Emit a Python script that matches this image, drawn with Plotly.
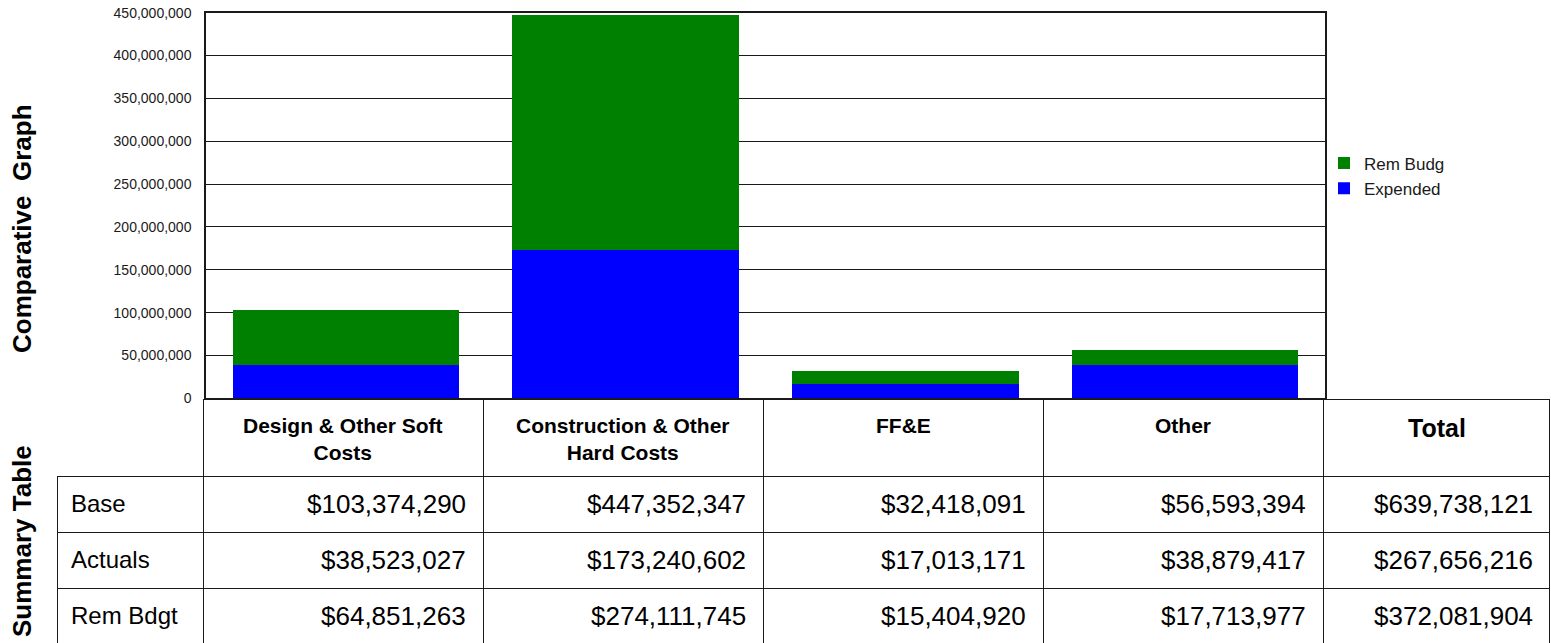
import plotly.graph_objects as go

# ---------------- data ----------------
categories = ["Design & Other Soft Costs", "Construction & Other Hard Costs", "FF&E", "Other"]
header_labels = ["Design & Other Soft<br>Costs", "Construction & Other<br>Hard Costs", "FF&E", "Other", "Total"]
row_labels = ["Base", "Actuals", "Rem Bdgt"]
base = [103374290, 447352347, 32418091, 56593394]
actuals = [38523027, 173240602, 17013171, 38879417]
rem_bdgt = [64851263, 274111745, 15404920, 17713977]
totals = [639738121, 267656216, 372081904]  # Base, Actuals, Rem Bdgt
series_names = ["Expended", "Rem Budg"]
y_ticks = [0, 50e6, 100e6, 150e6, 200e6, 250e6, 300e6, 350e6, 400e6, 450e6]

# ---------------- layout geometry (pixels) ----------------
W, H = 1551, 643
FONT = "Arial, Liberation Sans, sans-serif"
INK = "#1a1a1a"


def fx(px):
    return px / W


def fy(py):
    return 1 - py / H


plot_left, plot_right = 206, 1325
plot_top, plot_bottom = 12.7, 398.3

fig = go.Figure()
fig.add_trace(go.Bar(x=categories, y=actuals, name=series_names[0],
                     marker=dict(color="#0000FF", line=dict(width=0))))
fig.add_trace(go.Bar(x=categories, y=rem_bdgt, name=series_names[1],
                     marker=dict(color="#008000", line=dict(width=0))))

fig.update_layout(
    width=W, height=H,
    margin=dict(l=0, r=0, t=0, b=0, pad=0),
    paper_bgcolor="white", plot_bgcolor="white",
    barmode="stack", bargap=0.19,
    font=dict(family=FONT, color=INK),
    showlegend=True,
    legend=dict(x=fx(1324), xanchor="left", y=fy(176), yanchor="middle",
                traceorder="reversed", font=dict(size=17, color=INK),
                itemwidth=30, bgcolor="rgba(0,0,0,0)", tracegroupgap=0),
    xaxis=dict(domain=[fx(plot_left), fx(plot_right)], showticklabels=False,
               ticks="", showgrid=False, showline=True, linecolor=INK, linewidth=1.5,
               mirror=True, automargin=False, fixedrange=True),
    yaxis=dict(domain=[fy(plot_bottom), fy(plot_top)], range=[0, 450e6],
               tickvals=y_ticks, tickformat=",d", ticks="", ticklabelstandoff=10,
               tickfont=dict(size=14, color=INK), showgrid=True, gridcolor=INK,
               gridwidth=1, showline=True, linecolor=INK, linewidth=1.5,
               mirror=True, zeroline=False, automargin=False, fixedrange=True),
)

# ---------------- summary table (drawn with shapes + annotations) ----------------
col_edges = [203, 483, 763, 1043, 1323, 1550]
label_left = 57
header_top, header_bottom = 399.5, 476.5
row_h = 56
table_bottom = 650

shapes = []
# horizontal lines
shapes.append(dict(type="line", xref="paper", yref="paper",
                   x0=fx(col_edges[0]), x1=fx(col_edges[-1]), y0=fy(header_top), y1=fy(header_top),
                   line=dict(color=INK, width=1)))
for i in range(len(row_labels)):
    yy = header_bottom + i * row_h
    shapes.append(dict(type="line", xref="paper", yref="paper",
                       x0=fx(label_left), x1=fx(col_edges[-1]), y0=fy(yy), y1=fy(yy),
                       line=dict(color=INK, width=1)))
# vertical lines
shapes.append(dict(type="line", xref="paper", yref="paper",
                   x0=fx(label_left + 0.5), x1=fx(label_left + 0.5),
                   y0=fy(header_bottom), y1=fy(table_bottom), line=dict(color=INK, width=1)))
for xe in col_edges:
    xe2 = xe + 0.5 if xe < col_edges[-1] else xe - 0.5
    shapes.append(dict(type="line", xref="paper", yref="paper",
                       x0=fx(xe2), x1=fx(xe2), y0=fy(header_top), y1=fy(table_bottom),
                       line=dict(color=INK, width=1)))
fig.update_layout(shapes=shapes)

ann = []
# header texts
for j, lab in enumerate(header_labels):
    cx = (col_edges[j] + col_edges[j + 1]) / 2
    is_total = lab == "Total"
    size = 25 if is_total else 21
    nlines = lab.count("<br>") + 1
    first_center = 427.5 if is_total else 425.5
    cy = first_center + (nlines - 1) * size * 1.3 / 2
    ann.append(dict(x=fx(cx), y=fy(cy), xref="paper", yref="paper", text=lab,
                    showarrow=False, xanchor="center", yanchor="middle",
                    font=dict(size=size, color="#000", family=FONT, weight="bold")))

rows = [(row_labels[0], base, totals[0]),
        (row_labels[1], actuals, totals[1]),
        (row_labels[2], rem_bdgt, totals[2])]
for i, (lab, vals, tot) in enumerate(rows):
    cy = header_bottom + i * row_h + 27
    ann.append(dict(x=fx(label_left + 12), y=fy(cy), xref="paper", yref="paper", text=lab,
                    showarrow=False, xanchor="left", yanchor="middle",
                    font=dict(size=24, color="#000", family=FONT)))
    for j, v in enumerate(list(vals) + [tot]):
        ann.append(dict(x=fx(col_edges[j + 1] - 15), y=fy(cy), xref="paper", yref="paper",
                        text=f"${v:,.0f}", showarrow=False, xanchor="right", yanchor="middle",
                        font=dict(size=26, color="#000", family=FONT)))

# side titles
ann.append(dict(x=fx(22), y=fy(229), xref="paper", yref="paper", text="Comparative\u00a0 Graph",
                textangle=-90, showarrow=False, xanchor="center", yanchor="middle",
                font=dict(size=26, color="#000", family=FONT, weight="bold")))
ann.append(dict(x=fx(22), y=fy(541), xref="paper", yref="paper", text="Summary Table",
                textangle=-90, showarrow=False, xanchor="center", yanchor="middle",
                font=dict(size=26, color="#000", family=FONT, weight="bold")))
fig.update_layout(annotations=ann)

fig.write_html("out.html", config={"displayModeBar": False},
               post_script="document.body.style.margin='0';document.body.style.overflow='hidden';")
